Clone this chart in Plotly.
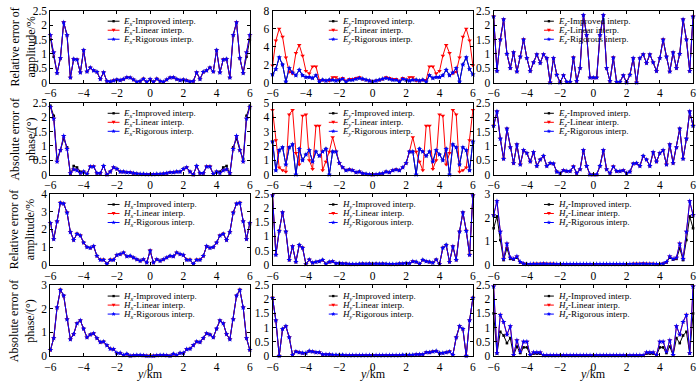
import math
import plotly.graph_objects as go

# ---------------- data ----------------
y_km = [-6.0, -5.8, -5.6, -5.4, -5.2, -5.0, -4.8, -4.6, -4.4, -4.2, -4.0, -3.8, -3.6, -3.4, -3.2, -3.0,
        -2.8, -2.6, -2.4, -2.2, -2.0, -1.8, -1.6, -1.4, -1.2, -1.0, -0.8, -0.6, -0.4, -0.2, 0.0,
        0.2, 0.4, 0.6, 0.8, 1.0, 1.2, 1.4, 1.6, 1.8, 2.0, 2.2, 2.4, 2.6, 2.8, 3.0, 3.2, 3.4, 3.6,
        3.8, 4.0, 4.2, 4.4, 4.6, 4.8, 5.0, 5.2, 5.4, 5.6, 5.8, 6.0]
x_ticks = [-6, -4, -2, 0, 2, 4, 6]

# Ex amplitude (%)
ex_amp_rig = [1.65, 1.05, 0.33, 0.85, 2.1, 1.65, 0.17, 0.82, 0.8, 0.35, 1.13, 0.38, 0.52, 0.42, 0.37, 0.12,
              0.35, 0.05, 0.03, 0.07, 0.1, 0.08, 0.12, 0.18, 0.17, 0.1, 0.02, 0.05, 0.13, 0.02, 0.12,
              0.02, 0.13, 0.05, 0.02, 0.1, 0.17, 0.18, 0.12, 0.08, 0.1, 0.07, 0.03, 0.05, 0.35, 0.12,
              0.37, 0.42, 0.52, 0.38, 1.13, 0.35, 0.8, 0.82, 0.17, 1.65, 2.1, 0.85, 0.33, 1.05, 1.65]
ex_amp_imp = [1.5, 0.9, 0.33, 0.85, 2.1, 1.65, 0.17, 0.82, 0.8, 0.35, 1.13, 0.38, 0.52, 0.42, 0.37, 0.12,
              0.35, 0.05, 0.03, 0.07, 0.1, 0.08, 0.12, 0.18, 0.17, 0.1, 0.02, 0.05, 0.13, 0.02, 0.12,
              0.02, 0.13, 0.05, 0.02, 0.1, 0.17, 0.18, 0.12, 0.08, 0.1, 0.07, 0.03, 0.05, 0.35, 0.12,
              0.37, 0.42, 0.52, 0.38, 1.13, 0.35, 0.8, 0.82, 0.17, 1.65, 2.1, 0.85, 0.33, 0.9, 1.5]
ex_amp_lin = ex_amp_rig

# Ey amplitude (%)
ey_amp_lin = [1.9, 4.7, 6.0, 5.1, 2.8, 1.2, 1.0, 3.3, 4.2, 3.0, 1.3, 1.0, 1.8, 1.8, 0.3, 0.3,
              0.2, 0.2, 0.6, 0.6, 0.3, 0.5, 0.2, 0.4, 0.4, 0.5, 0.6, 0.4, 0.3, 0.2, 0.1,
              0.2, 0.3, 0.4, 0.6, 0.5, 0.4, 0.4, 0.2, 0.5, 0.3, 0.6, 0.6, 0.2, 0.2, 0.3,
              0.3, 1.8, 1.8, 1.0, 1.3, 3.0, 4.2, 3.3, 1.0, 1.2, 2.8, 5.1, 6.0, 4.7, 1.9]
ey_amp_rig = [0.9, 1.5, 2.8, 2.0, 0.1, 1.6, 1.1, 0.8, 1.4, 0.8, 0.6, 0.6, 0.5, 0.8, 0.1, 0.3,
              0.2, 0.3, 0.3, 0.2, 0.3, 0.4, 0.1, 0.3, 0.3, 0.4, 0.5, 0.4, 0.3, 0.2, 0.1,
              0.2, 0.3, 0.4, 0.5, 0.4, 0.3, 0.3, 0.1, 0.4, 0.3, 0.2, 0.3, 0.3, 0.2, 0.3,
              0.1, 0.8, 0.5, 0.6, 0.6, 0.8, 1.4, 0.8, 1.1, 1.6, 0.1, 2.0, 2.8, 1.5, 0.9]
ey_amp_imp = ey_amp_rig

# Ez amplitude (%)
ez_amp_rig = [2.3, 0.4, 1.5, 2.2, 1.0, 0.5, 1.05, 0.38, 0.9, 1.5, 0.85, 0.4, 0.7, 0.98, 0.68, 0.98,
              0.85, 0.0, 0.85, 0.27, 0.0, 0.25, 0.02, 0.02, 0.87, 0.05, 0.5, 2.35, 1.65, 0.17, 0.17,
              0.17, 1.65, 2.35, 0.5, 0.05, 0.87, 0.02, 0.02, 0.25, 0.0, 0.27, 0.85, 0.0, 0.85, 0.98,
              0.68, 0.98, 0.7, 0.4, 0.85, 1.5, 0.9, 0.38, 1.05, 0.5, 1.0, 2.2, 1.5, 0.4, 2.3]
ez_amp_imp = ez_amp_rig
ez_amp_lin = ez_amp_rig

# Ex phase (deg)
ex_ph_rig = [2.35, 1.95, 0.45, 0.85, 1.35, 0.9, 0.05, 0.18, 0.15, 0.05, 0.1, 0.02, 0.28, 0.28, 0.05, 0.05,
             0.3, 0.0, 0.1, 0.25, 0.2, 0.1, 0.1, 0.08, 0.08, 0.05, 0.03, 0.02, 0.02, 0.01, 0.01,
             0.01, 0.02, 0.02, 0.03, 0.05, 0.08, 0.08, 0.1, 0.1, 0.2, 0.25, 0.1, 0.0, 0.3, 0.05,
             0.05, 0.28, 0.28, 0.02, 0.1, 0.05, 0.15, 0.18, 0.05, 0.9, 1.35, 0.85, 0.45, 1.95, 2.35]
ex_ph_imp = [2.4, 2.05, 0.55, 0.85, 1.25, 0.95, 0.0, 0.3, 0.25, 0.1, 0.1, 0.02, 0.28, 0.28, 0.05, 0.05,
             0.3, 0.0, 0.1, 0.25, 0.2, 0.1, 0.1, 0.08, 0.08, 0.05, 0.03, 0.02, 0.02, 0.01, 0.01,
             0.01, 0.02, 0.02, 0.03, 0.05, 0.08, 0.08, 0.1, 0.1, 0.2, 0.25, 0.1, 0.0, 0.3, 0.05,
             0.05, 0.28, 0.28, 0.02, 0.1, 0.1, 0.25, 0.3, 0.0, 0.95, 1.25, 0.85, 0.55, 2.05, 2.4]
ex_ph_lin = ex_ph_rig

# Ey phase (deg)
ey_ph_lin = [4.5, 2.4, 0.5, 0.3, 0.2, 4.2, 4.5, 1.5, 0.7, 4.1, 4.2, 1.0, 0.4, 3.4, 3.4, 0.3,
             0.9, 1.6, 2.6, 1.6, 0.8, 0.5, 0.3, 0.35, 0.3, 0.15, 0.2, 0.08, 0.05, 0.02, 0.0,
             0.02, 0.05, 0.08, 0.2, 0.15, 0.3, 0.35, 0.3, 0.5, 0.8, 1.6, 2.6, 1.6, 0.9, 0.3,
             3.4, 3.4, 0.4, 1.0, 4.2, 4.1, 0.7, 1.5, 4.5, 4.2, 0.2, 0.3, 0.5, 2.4, 4.5]
ey_ph_rig = [2.3, 0.3, 1.7, 1.9, 0.7, 1.9, 2.1, 0.0, 1.8, 1.0, 1.4, 1.7, 0.9, 1.6, 1.3, 1.6,
             1.8, 0.0, 1.6, 1.6, 0.8, 0.5, 0.3, 0.35, 0.3, 0.15, 0.2, 0.08, 0.05, 0.02, 0.0,
             0.02, 0.05, 0.08, 0.2, 0.15, 0.3, 0.35, 0.3, 0.5, 0.8, 1.6, 1.6, 0.0, 1.8, 1.6,
             1.3, 1.6, 0.9, 1.7, 1.4, 1.0, 1.8, 0.0, 2.1, 1.9, 0.7, 1.9, 1.7, 0.3, 2.3]
ey_ph_imp = ey_ph_rig

# Ez phase (deg)
ez_ph_rig = [1.7, 2.2, 1.25, 0.55, 1.6, 0.95, 0.4, 1.05, 0.35, 0.85, 0.75, 0.45, 0.78, 0.3, 0.52, 0.65,
             0.3, 0.4, 0.38, 0.1, 0.05, 0.15, 0.12, 0.12, 0.28, 0.05, 0.18, 0.85, 0.3, 0.0, 0.0,
             0.0, 0.3, 0.85, 0.18, 0.05, 0.28, 0.12, 0.12, 0.15, 0.05, 0.1, 0.38, 0.4, 0.3, 0.65,
             0.52, 0.3, 0.78, 0.45, 0.75, 0.85, 0.35, 1.05, 0.4, 0.95, 1.6, 0.55, 1.25, 2.2, 1.7]
ez_ph_imp = ez_ph_rig
ez_ph_lin = ez_ph_rig

# Hx amplitude (%)
hx_amp_rig = [2.35, 1.45, 2.45, 3.5, 3.45, 2.95, 1.85, 1.4, 1.75, 1.65, 1.25, 1.0, 0.95, 1.05, 0.5, 0.28,
              0.28, 0.05, 0.28, 0.28, 0.55, 0.6, 0.68, 0.48, 0.5, 0.4, 0.3, 0.22, 0.3, 0.12, 0.8,
              0.12, 0.3, 0.22, 0.3, 0.4, 0.5, 0.48, 0.68, 0.6, 0.55, 0.28, 0.28, 0.05, 0.28, 0.28,
              0.5, 1.05, 0.95, 1.0, 1.25, 1.65, 1.75, 1.4, 1.85, 2.95, 3.45, 3.5, 2.45, 1.45, 2.35]
hx_amp_imp = hx_amp_rig
hx_amp_lin = hx_amp_rig

# Hy amplitude (%)
hy_amp_rig = [2.45, 0.35, 1.2, 1.85, 1.17, 0.17, 0.65, 0.1, 0.7, 0.6, 0.02, 0.18, 0.07, 0.1, 0.12, 0.17,
              0.03, 0.1, 0.12, 0.05, 0.06, 0.04, 0.04, 0.02, 0.02, 0.02, 0.03, 0.04, 0.03, 0.04, 0.03,
              0.04, 0.03, 0.04, 0.03, 0.02, 0.02, 0.02, 0.04, 0.04, 0.06, 0.05, 0.12, 0.1, 0.03, 0.17,
              0.12, 0.1, 0.07, 0.18, 0.02, 0.6, 0.7, 0.1, 0.65, 0.17, 1.17, 1.85, 1.2, 0.35, 2.45]
hy_amp_imp = hy_amp_rig
hy_amp_lin = hy_amp_rig

# Hz amplitude (%)
hz_amp_rig = [2.1, 2.7, 1.4, 0.25, 0.9, 0.3, 0.25, 0.35, 0.12, 0.05, 0.03, 0.03, 0.04, 0.04, 0.04, 0.05,
              0.04, 0.04, 0.04, 0.03, 0.03, 0.03, 0.03, 0.03, 0.03, 0.03, 0.03, 0.03, 0.03, 0.03, 0.03,
              0.03, 0.03, 0.03, 0.03, 0.03, 0.03, 0.03, 0.03, 0.03, 0.03, 0.03, 0.04, 0.04, 0.04, 0.05,
              0.04, 0.04, 0.04, 0.03, 0.03, 0.05, 0.12, 0.35, 0.25, 0.3, 0.9, 0.25, 1.4, 2.7, 2.1]
hz_amp_imp = [1.55, 2.05, 1.05, 0.2, 0.7, 0.25, 0.22, 0.3, 0.1, 0.04, 0.02, 0.02, 0.03, 0.03, 0.03, 0.04,
              0.03, 0.03, 0.03, 0.02, 0.02, 0.02, 0.02, 0.02, 0.02, 0.02, 0.02, 0.02, 0.02, 0.02, 0.02,
              0.02, 0.02, 0.02, 0.02, 0.02, 0.02, 0.02, 0.02, 0.02, 0.02, 0.02, 0.03, 0.03, 0.03, 0.04,
              0.03, 0.03, 0.03, 0.02, 0.02, 0.04, 0.1, 0.3, 0.22, 0.25, 0.7, 0.2, 1.05, 2.05, 1.55]
hz_amp_lin = hz_amp_rig

# Hx phase (deg)
hx_ph_rig = [0.25, 0.75, 2.05, 2.8, 2.55, 1.55, 0.7, 0.92, 1.38, 1.5, 1.15, 0.78, 0.9, 0.95, 0.75, 0.58,
             0.6, 0.45, 0.3, 0.28, 0.12, 0.12, 0.03, 0.08, 0.0, 0.02, 0.03, 0.03, 0.02, 0.0, 0.0,
             0.0, 0.02, 0.03, 0.03, 0.02, 0.0, 0.08, 0.03, 0.12, 0.12, 0.28, 0.3, 0.45, 0.6, 0.58,
             0.75, 0.95, 0.9, 0.78, 1.15, 1.5, 1.38, 0.92, 0.7, 1.55, 2.55, 2.8, 2.05, 0.75, 0.25]
hx_ph_imp = hx_ph_rig
hx_ph_lin = hx_ph_rig

# Hy phase (deg)
hy_ph_rig = [2.05, 1.25, 0.0, 0.95, 1.05, 0.65, 0.03, 0.15, 0.12, 0.1, 0.1, 0.17, 0.15, 0.12, 0.12, 0.05,
             0.05, 0.05, 0.03, 0.03, 0.03, 0.03, 0.02, 0.02, 0.02, 0.02, 0.02, 0.02, 0.02, 0.02, 0.02,
             0.02, 0.02, 0.02, 0.02, 0.02, 0.02, 0.02, 0.02, 0.03, 0.03, 0.03, 0.03, 0.05, 0.05, 0.05,
             0.12, 0.12, 0.15, 0.17, 0.1, 0.1, 0.12, 0.15, 0.03, 0.65, 1.05, 0.95, 0.0, 1.25, 2.05]
hy_ph_imp = hy_ph_rig
hy_ph_lin = hy_ph_rig

# Hz phase (deg)
hz_ph_rig = [2.45, 0.1, 1.45, 1.2, 0.75, 1.05, 0.03, 0.55, 0.15, 0.5, 0.5, 0.03, 0.12, 0.12, 0.12, 0.02,
             0.02, 0.02, 0.02, 0.02, 0.02, 0.02, 0.02, 0.02, 0.02, 0.02, 0.02, 0.02, 0.02, 0.02, 0.02,
             0.02, 0.02, 0.02, 0.02, 0.02, 0.02, 0.02, 0.02, 0.02, 0.02, 0.02, 0.02, 0.02, 0.02, 0.02,
             0.12, 0.12, 0.12, 0.03, 0.5, 0.5, 0.15, 0.55, 0.03, 1.05, 0.75, 1.2, 1.45, 0.1, 2.45]
hz_ph_imp = [1.5, 0.08, 0.85, 0.72, 0.45, 0.63, 0.02, 0.33, 0.1, 0.3, 0.3, 0.02, 0.08, 0.08, 0.08, 0.01,
             0.01, 0.01, 0.01, 0.01, 0.01, 0.01, 0.01, 0.01, 0.01, 0.01, 0.01, 0.01, 0.01, 0.01, 0.01,
             0.01, 0.01, 0.01, 0.01, 0.01, 0.01, 0.01, 0.01, 0.01, 0.01, 0.01, 0.01, 0.01, 0.01, 0.01,
             0.08, 0.08, 0.08, 0.02, 0.3, 0.3, 0.1, 0.33, 0.02, 0.63, 0.45, 0.72, 0.85, 0.08, 1.5]
hz_ph_lin = hz_ph_rig

series_labels = ["Improved interp.", "Linear interp.", "Rigorous interp."]
row_titles = ["Relative error of<br>amplitude/%", "Absolute error of<br>phase/(°)",
              "Relative error of<br>amplitude/%", "Absolute error of<br>phase/(°)"]

# (field letter, component, improved, linear, rigorous, y max, y tick step)
panels = [
    ("E", "x", ex_amp_imp, ex_amp_lin, ex_amp_rig, 2.5, 0.5),
    ("E", "y", ey_amp_imp, ey_amp_lin, ey_amp_rig, 8, 2),
    ("E", "z", ez_amp_imp, ez_amp_lin, ez_amp_rig, 2.5, 0.5),
    ("E", "x", ex_ph_imp, ex_ph_lin, ex_ph_rig, 2.5, 0.5),
    ("E", "y", ey_ph_imp, ey_ph_lin, ey_ph_rig, 5, 1),
    ("E", "z", ez_ph_imp, ez_ph_lin, ez_ph_rig, 2.5, 0.5),
    ("H", "x", hx_amp_imp, hx_amp_lin, hx_amp_rig, 4, 1),
    ("H", "y", hy_amp_imp, hy_amp_lin, hy_amp_rig, 2.5, 0.5),
    ("H", "z", hz_amp_imp, hz_amp_lin, hz_amp_rig, 3, 1),
    ("H", "x", hx_ph_imp, hx_ph_lin, hx_ph_rig, 3, 1),
    ("H", "y", hy_ph_imp, hy_ph_lin, hy_ph_rig, 2.5, 0.5),
    ("H", "z", hz_ph_imp, hz_ph_lin, hz_ph_rig, 2.5, 0.5),
]
for p in panels:
    for s in p[2:5]:
        assert len(s) == len(y_km)

# ---------------- layout (pixels) ----------------
W, H = 700, 389
FONT = "Liberation Serif, Times New Roman, serif"
COLS = [(45, 247), (270, 473), (494, 696)]
ROWS = [(5, 79), (100, 174), (194, 267), (288, 361)]
# legend anchor per column: line start x, line end x, text start x
LEG_X = [(103, 115, 117), (327, 336, 338), (545, 555, 557)]
LEG_Y0 = [15.7, 110.7, 204.8, 299.3]
LEG_DY = 9.3
COLORS = ["#000000", "#ff0000", "#0000ff"]
SYMBOLS = ["square", "triangle-down", "star"]
SIZES = [2.6, 4, 4.2]


def px(x):
    return x / W


def py(y):
    return 1 - y / H


fig = go.Figure()
shapes = []
annotations = []

for i, (fld, comp, imp, lin, rig, ymax, dtick) in enumerate(panels):
    r, c = divmod(i, 3)
    k = "" if i == 0 else str(i + 1)
    x0, x1 = COLS[c]
    y0, y1 = ROWS[r]
    for j, ser in enumerate([imp, lin, rig]):
        fig.add_trace(go.Scatter(
            x=y_km, y=ser, xaxis="x" + k, yaxis="y" + k, mode="lines+markers",
            line=dict(color=COLORS[j], width=1),
            marker=dict(color=COLORS[j], symbol=SYMBOLS[j], size=SIZES[j], line=dict(width=0)),
            cliponaxis=False, showlegend=False, hoverinfo="skip"))
    axcommon = dict(showline=True, linecolor="black", linewidth=1, mirror="ticks",
                    ticks="inside", ticklen=3, tickcolor="black", showgrid=False, zeroline=False,
                    tickfont=dict(family=FONT, size=11.5, color="black"))
    fig.layout["xaxis" + k] = dict(domain=[px(x0), px(x1)], anchor="y" + k, range=[-6, 6],
                                   tickvals=x_ticks, **axcommon)
    fig.layout["yaxis" + k] = dict(domain=[py(y1), py(y0)], anchor="x" + k, range=[0, ymax],
                                   dtick=dtick, tick0=0, **axcommon)
    # manual legend
    lx0, lx1, tx = LEG_X[c]
    for j in range(3):
        ly = LEG_Y0[r] + j * LEG_DY
        shapes.append(dict(type="line", xref="paper", yref="paper", x0=px(lx0), x1=px(lx1),
                           y0=py(ly), y1=py(ly), line=dict(color=COLORS[j], width=1)))
        cx = (lx0 + lx1) / 2
        if j == 0:
            shapes.append(dict(type="rect", xref="paper", yref="paper",
                               x0=px(cx - 1.2), x1=px(cx + 1.2), y0=py(ly + 1.2), y1=py(ly - 1.2),
                               fillcolor=COLORS[j], line=dict(width=0)))
        elif j == 1:
            path = "M{},{} L{},{} L{},{} Z".format(px(cx - 2.0), py(ly - 1.5), px(cx + 2.0), py(ly - 1.5),
                                                    px(cx), py(ly + 1.8))
            shapes.append(dict(type="path", xref="paper", yref="paper", path=path,
                               fillcolor=COLORS[j], line=dict(width=0)))
        else:
            pts = []
            for m in range(10):
                rad = 2.3 if m % 2 == 0 else 1.0
                ang = -math.pi / 2 + m * math.pi / 5
                pts.append((px(cx + rad * math.cos(ang)), py(ly + rad * math.sin(ang))))
            path = "M" + " L".join("{},{}".format(a, b) for a, b in pts) + " Z"
            shapes.append(dict(type="path", xref="paper", yref="paper", path=path,
                               fillcolor=COLORS[j], line=dict(width=0)))
        annotations.append(dict(
            xref="paper", yref="paper", x=px(tx), y=py(ly), xanchor="left", yanchor="middle",
            showarrow=False,
            text="<i>{}</i><sub><i>{}</i></sub>-{}".format(fld, comp, series_labels[j]),
            font=dict(family=FONT, size=9, color="black")))

# row titles
for r, t in enumerate(row_titles):
    y0, y1 = ROWS[r]
    annotations.append(dict(xref="paper", yref="paper", x=px(17), y=py((y0 + y1) / 2),
                            xanchor="center", yanchor="middle", textangle=-90, showarrow=False,
                            text=t, font=dict(family=FONT, size=12, color="black")))
# x titles
for c in range(3):
    x0, x1 = COLS[c]
    annotations.append(dict(xref="paper", yref="paper", x=px((x0 + x1) / 2), y=py(389),
                            xanchor="center", yanchor="bottom", showarrow=False,
                            text="<i>y</i>/km", font=dict(family=FONT, size=12, color="black")))

fig.update_layout(width=W, height=H, margin=dict(l=0, r=0, t=0, b=0),
                  paper_bgcolor="white", plot_bgcolor="white",
                  shapes=shapes, annotations=annotations, showlegend=False)
fig.write_html("out.html", config={"displayModeBar": False},
               post_script="document.body.style.margin='0px';document.body.style.overflow='hidden';")
